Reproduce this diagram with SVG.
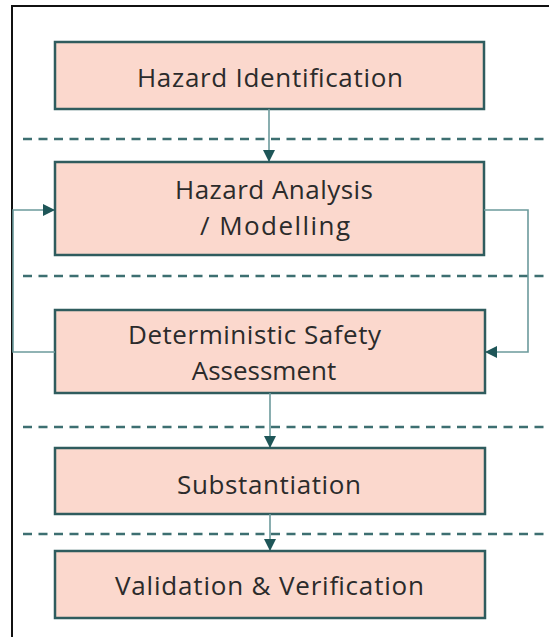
<svg xmlns="http://www.w3.org/2000/svg" width="549" height="637" viewBox="0 0 549 637">
<style>
.box{fill:#FBD8CD;stroke:#2F5C5E;stroke-width:2.5}
.t{font-family:"Open Sans","Noto Sans",sans-serif;font-size:26px;fill:#2B2B2B;text-anchor:middle}
.dash{stroke:#3D6F71;stroke-width:2.5;stroke-dasharray:9 6.5;fill:none}
.conn{stroke:#6C9A9C;stroke-width:1.6;fill:none}
</style>
<defs>
<marker id="ah" markerWidth="12" markerHeight="12" refX="11" refY="6" orient="auto" markerUnits="userSpaceOnUse">
<path d="M0,0 L12,6 L0,12 Z" fill="#1E5658"/>
</marker>
</defs>
<rect width="549" height="637" fill="#fff"/>
<path d="M12,637 V6 H549" fill="none" stroke="#111" stroke-width="2"/>
<g id="separators">
<line class="dash" x1="23" y1="139" x2="549" y2="139"/>
<line class="dash" x1="23" y1="276" x2="549" y2="276"/>
<line class="dash" x1="23" y1="427" x2="549" y2="427"/>
<line class="dash" x1="23" y1="534" x2="549" y2="534"/>
</g>
<g id="n1"><rect class="box" x="55" y="42" width="429" height="67"/><text class="t" x="270" y="87" textLength="266">Hazard Identification</text></g>
<g id="n2"><rect class="box" x="55" y="162" width="429" height="93"/><text class="t" x="274" y="199" textLength="198">Hazard Analysis</text><text class="t" x="275" y="235" textLength="150">/ Modelling</text></g>
<g id="n3"><rect class="box" x="55" y="310" width="430" height="83"/><text class="t" x="254.5" y="344" textLength="253">Deterministic Safety</text><text class="t" x="264" y="380">Assessment</text></g>
<g id="n4"><rect class="box" x="55" y="448" width="430" height="66"/><text class="t" x="269" y="494" textLength="184">Substantiation</text></g>
<g id="n5"><rect class="box" x="55" y="551" width="430" height="67"/><text class="t" x="269.5" y="595" textLength="309">Validation &amp; Verification</text></g>
<g id="connectors">
<path class="conn" d="M269,109 V161" marker-end="url(#ah)"/>
<path class="conn" d="M270,393 V447" marker-end="url(#ah)"/>
<path class="conn" d="M270,514 V550" marker-end="url(#ah)"/>
<path class="conn" d="M55,352 H13 V210 H54" marker-end="url(#ah)"/>
<path class="conn" d="M484,210 H528 V352 H486" marker-end="url(#ah)"/>
</g>
</svg>
